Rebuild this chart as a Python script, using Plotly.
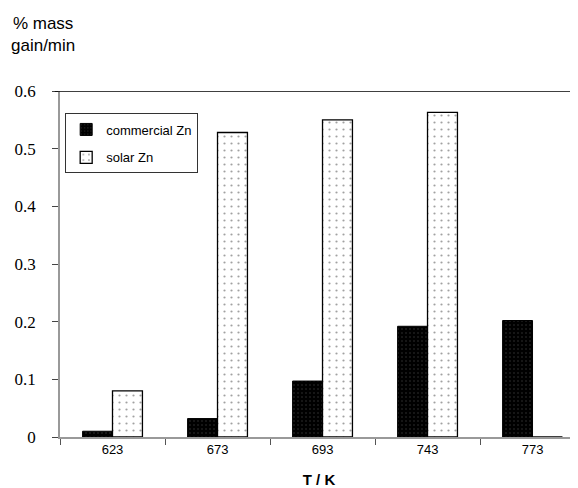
import plotly.graph_objects as go

categories = ["623", "673", "693", "743", "773"]
commercial_zn = [0.01, 0.032, 0.097, 0.192, 0.202]
solar_zn = [0.08, 0.528, 0.55, 0.563, 0.0]
y_ticks = [0, 0.1, 0.2, 0.3, 0.4, 0.5, 0.6]
y_tick_text = ["0", "0.1", "0.2", "0.3", "0.4", "0.5", "0.6"]

SANS = "Liberation Sans"
SERIF = "Times New Roman, Liberation Serif, DejaVu Serif, serif"

fig = go.Figure()
fig.add_trace(go.Bar(
    x=categories, y=commercial_zn, name="commercial Zn", legendgroup="a",
    marker=dict(color="black", line=dict(color="black", width=1),
                pattern=dict(shape=".", fgcolor="#3a3a3a", bgcolor="black", size=4, solidity=0.2)),
))
fig.add_trace(go.Bar(
    x=categories, y=solar_zn, name="solar Zn", legendgroup="b",
    marker=dict(color="white", line=dict(color="black", width=1.3),
                pattern=dict(shape=".", fgcolor="#444", bgcolor="white", size=7, solidity=0.08)),
))

fig.add_shape(type="line", xref="paper", yref="y", x0=-0.01, x1=1, y0=0.6, y1=0.6,
              line=dict(color="black", width=1.5))

fig.add_annotation(text="% mass<br>gain/min", xref="paper", yref="paper",
                   x=0, y=1.0, xanchor="left", yanchor="top", xshift=-51, yshift=79,
                   showarrow=False, align="center",
                   font=dict(family=SANS, size=17, color="black"))

fig.update_layout(
    width=578, height=488,
    margin=dict(l=52, r=8, t=83, b=59),
    paper_bgcolor="white", plot_bgcolor="white",
    font=dict(family=SANS, color="black"),
    barmode="group", bargap=0.43, bargroupgap=0,
    showlegend=True,
    legend=dict(x=0.01, y=0.935, xanchor="left", yanchor="top",
                bordercolor="#333", borderwidth=1, bgcolor="white",
                font=dict(family=SANS, size=13, color="black"),
                traceorder="grouped", tracegroupgap=8, itemwidth=30,
                entrywidth=121),
    xaxis=dict(type="category", range=[-0.5, 4.433], showline=True, linecolor="#999",
               linewidth=1.5, ticks="outside", tickson="boundaries", ticklen=6,
               tickcolor="#555", showgrid=False,
               tickfont=dict(family=SANS, size=13, color="black"),
               title=dict(text="<b>T / K</b>", standoff=18,
                          font=dict(family=SANS, size=15, color="black"))),
    yaxis=dict(range=[0, 0.6], tickvals=y_ticks, ticktext=y_tick_text, showline=True,
               linecolor="#999", linewidth=1.5, ticks="outside", ticklen=6,
               tickcolor="#444", showgrid=False, zeroline=False,
               ticklabelstandoff=13,
               tickfont=dict(family=SERIF, size=17, color="black")),
)

fig.write_html("out.html")
